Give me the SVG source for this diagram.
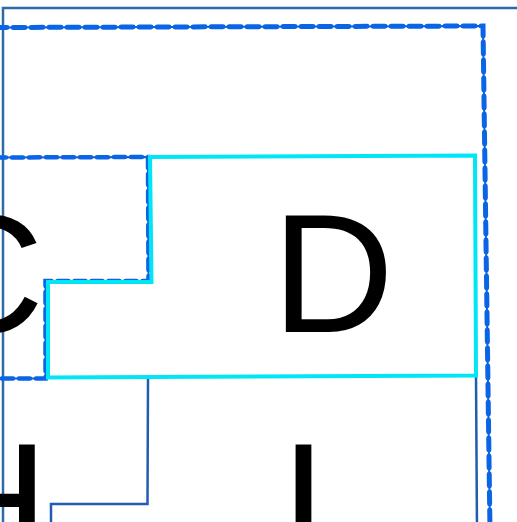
<svg xmlns="http://www.w3.org/2000/svg" width="517" height="522" viewBox="0 0 517 522">
  <style>
    .frame { fill: none; stroke: #2e6aa6; stroke-width: 2.5; }
    .dash-base { fill: none; stroke: #1d5cc4; stroke-width: 2; }
    .dash-top { fill: none; stroke: #0a64e8; stroke-width: 5; stroke-dasharray: 12 6; stroke-linecap: round; }
    .dash-c { fill: none; stroke: #0a64e8; stroke-width: 4.5; stroke-dasharray: 11 6; stroke-linecap: round; }
    .cyan { fill: none; stroke: #00e6f6; stroke-width: 4; stroke-linejoin: miter; }
    .thin { fill: none; stroke: #1f5db2; stroke-width: 2.5; }
    .lbl { font-family: "Liberation Sans", Arial, sans-serif; font-size: 169px; fill: #000; }
  </style>
  <rect x="0" y="0" width="517" height="522" fill="#ffffff"/>
  <path class="frame" d="M3,530 L3,8 L530,8"/>

  <g id="container">
    <path class="dash-base" d="M-5,27.5 L483,26 L490,530"/>
    <path class="dash-top" d="M-5,27.5 L483,26 L490,530"/>
  </g>

  <g id="node-I">
    <path class="thin" d="M148,379 L147.5,504 L51,504 L51,530"/>
    <path class="thin" d="M476,376 L477,530"/>
    <text class="lbl" x="280" y="561">I</text>
  </g>

  <g id="node-H">
    <text class="lbl" x="-73.5" y="561">H</text>
  </g>

  <g id="node-C">
    <path class="dash-base" d="M-5,157.5 L148,157 L148.5,281 L45.5,281 L45.5,378.5 L-5,378.5"/>
    <path class="dash-c" d="M-5,157.5 L148,157 L148.5,281 L45.5,281 L45.5,378.5 L-5,378.5"/>
    <text class="lbl" x="-78" y="332">C</text>
  </g>

  <g id="node-D">
    <path class="cyan" d="M150,157 L475,155.5 L476,375.5 L48,377.5 L48,282 L151.5,282 Z"/>
    <text class="lbl" x="272" y="332">D</text>
  </g>

  <g id="connectors"></g>
</svg>
